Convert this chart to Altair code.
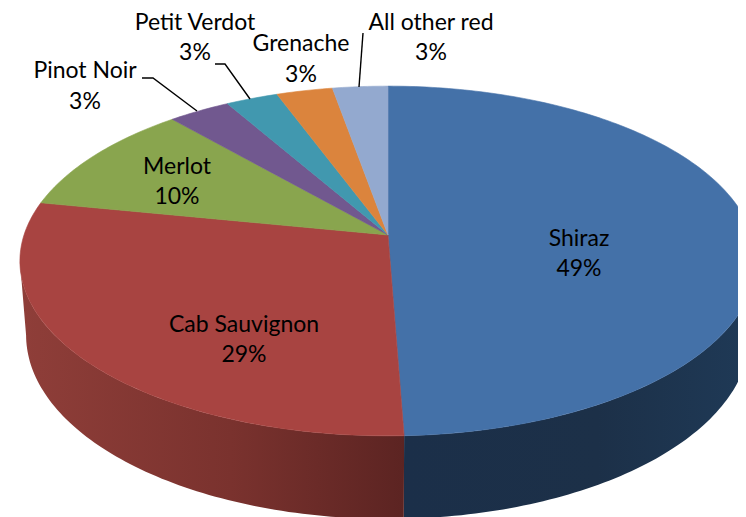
import math
import altair as alt
import pandas as pd

# --- chart values ---
names = ["Shiraz", "Cab Sauvignon", "Merlot", "Pinot Noir", "Petit Verdot", "Grenache", "All other red"]
shares = [49.4, 28.7, 10.45, 3.15, 2.65, 2.85, 2.8]
pct_labels = ["49%", "29%", "10%", "3%", "3%", "3%", "3%"]
top_colors = ["#4471A8", "#A84441", "#89A54E", "#71588F", "#4198AF", "#DB843D", "#93A9CF"]
wall_stops = [
    ["#1B2F49", "#1C3048", "#1F3A57"],
    ["#8F3E39", "#7A322E", "#5C2422"],
    ["#5C7032", "#5C7032", "#5C7032"],
    ["#4A3A60", "#4A3A60", "#4A3A60"],
    ["#2B6575", "#2B6575", "#2B6575"],
    ["#935828", "#935828", "#935828"],
    ["#63718A", "#63718A", "#63718A"],
]

# --- layout (image pixels), separate from the values ---
FACE = dict(cx=388, cy=235, a=364, b=171, k=0.1486)
BASE = dict(cx=388, cy=308, a=358, b=180, k=0.1467)
label_x = [579, 244, 177, 85, 195, 301, 431]
name_y = [239, 325, 167, 71, 23, 44, 23]
pct_y = [269, 355, 197, 102, 53, 75, 53]
leaders = [
    [(142, 78), (153, 78), (197, 111)],
    [(215, 64), (225, 64), (250, 99)],
    [(363, 33), (359, 87)],
]
FONT = "Lato"
FONT_SIZE = 23


def rim(theta_deg, p):
    t = math.radians(theta_deg)
    u, v = math.sin(t), math.cos(t)
    d = 1 + p["k"] * v
    return p["cx"] + p["a"] * u / d, p["cy"] - p["b"] * v / d


def steps(start, end):
    n = max(2, int(abs(end - start)) + 1)
    return [start + (end - start) * i / n for i in range(n + 1)]


X = alt.X("x:Q", axis=None, scale=alt.Scale(domain=[8, 738], nice=False, zero=False))
Y = alt.Y("y:Q", axis=None, scale=alt.Scale(domain=[517, 8], nice=False, zero=False))

# The wall only shows between the rim's two side tangents.
tangent = math.degrees(math.acos(-FACE["k"]))
FRONT_START, FRONT_END = tangent, 360 - tangent

total = sum(shares)
cum = 0.0
walls, faces = [], []
for i, s in enumerate(shares):
    a0 = cum / total * 360
    cum += s
    a1 = cum / total * 360
    arc = steps(a0, a1)
    w0, w1 = max(a0, FRONT_START), min(a1, FRONT_END)
    if w1 > w0:
        wall_arc = steps(w0, w1)
        # side wall: front rim forward, base rim back
        pts = [rim(t, FACE) for t in wall_arc] + [rim(t, BASE) for t in reversed(wall_arc)]
        pts.append(pts[0])
        df = pd.DataFrame(pts, columns=["x", "y"]).assign(i=range(len(pts)))
        c = wall_stops[i]
        grad = alt.Gradient(
            gradient="linear", x1=0, x2=1, y1=0, y2=0,
            stops=[alt.GradientStop(color=c[0], offset=0),
                   alt.GradientStop(color=c[1], offset=0.55),
                   alt.GradientStop(color=c[2], offset=1)],
        )
        walls.append(
            alt.Chart(df).mark_line(fill=grad, strokeWidth=0, strokeOpacity=0)
            .encode(x=X, y=Y, order="i:Q")
        )
    # top face: hub + rim
    pts = [(FACE["cx"], FACE["cy"])] + [rim(t, FACE) for t in arc] + [(FACE["cx"], FACE["cy"])]
    df = pd.DataFrame(pts, columns=["x", "y"]).assign(i=range(len(pts)))
    faces.append(
        alt.Chart(df).mark_line(fill=top_colors[i], stroke=top_colors[i], strokeWidth=0.6)
        .encode(x=X, y=Y, order="i:Q")
    )

leader_rows = [
    {"x": x, "y": y, "leader": j, "i": k}
    for j, line in enumerate(leaders)
    for k, (x, y) in enumerate(line)
]
leader_layer = (
    alt.Chart(pd.DataFrame(leader_rows))
    .mark_line(color="black", strokeWidth=1.4)
    .encode(x=X, y=Y, detail="leader:N", order="i:Q")
)

label_rows = [
    {"x": label_x[i], "y": name_y[i], "t": names[i]} for i in range(len(names))
] + [
    {"x": label_x[i], "y": pct_y[i], "t": pct_labels[i]} for i in range(len(names))
]
text_layer = (
    alt.Chart(pd.DataFrame(label_rows))
    .mark_text(font=FONT, fontSize=FONT_SIZE, color="black", align="center", baseline="middle")
    .encode(x=X, y=Y, text="t:N")
)

chart = (
    alt.layer(*walls, *faces, leader_layer, text_layer)
    .properties(width=730, height=509, padding=0, autosize=alt.AutoSizeParams(type="none"))
    .configure_view(stroke=None)
)
chart.save("out.html", embed_options={"renderer": "svg", "actions": False})
